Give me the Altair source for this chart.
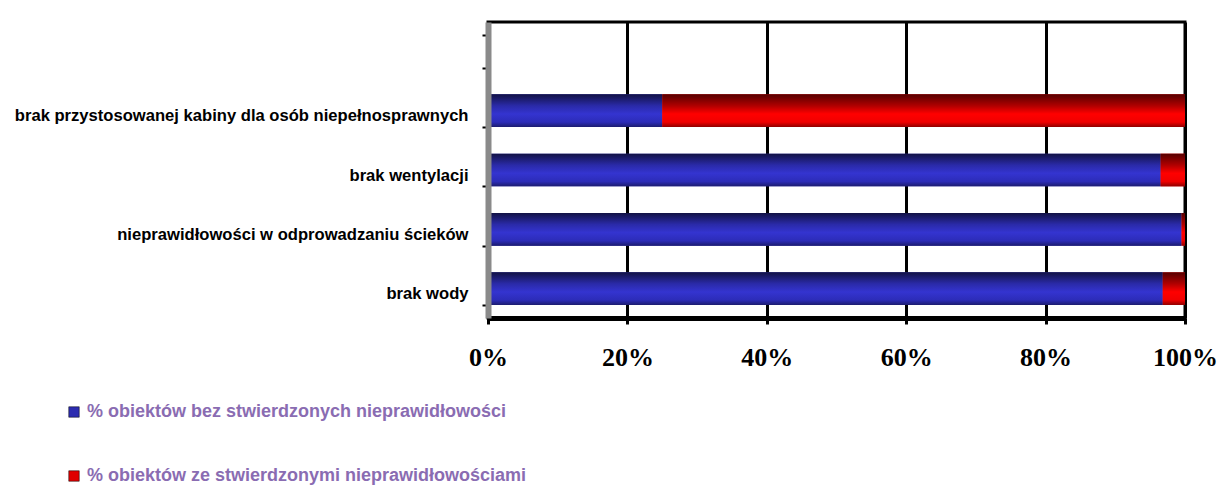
import altair as alt
import pandas as pd

categories = [
    "brak przystosowanej kabiny dla osób niepełnosprawnych",
    "brak wentylacji",
    "nieprawidłowości w odprowadzaniu ścieków",
    "brak wody",
]
ok_pct = [25.0, 96.5, 99.5, 96.8]
bad_pct = [75.0, 3.5, 0.5, 3.2]
series = [
    "% obiektów bez stwierdzonych nieprawidłowości",
    "% obiektów ze stwierdzonymi nieprawidłowościami",
]
y_domain = [" "] + categories
x_ticks = [0, 20, 40, 60, 80, 100]

rows = []
for c, a, b in zip(categories, ok_pct, bad_pct):
    rows.append({"category": c, "series": series[0], "value": a, "order": 0})
    rows.append({"category": c, "series": series[1], "value": b, "order": 1})
df = pd.DataFrame(rows)

blue_grad = alt.Gradient(
    gradient="linear", x1=0, x2=0, y1=0, y2=1,
    stops=[
        alt.GradientStop(color="#121245", offset=0),
        alt.GradientStop(color="#2a2aa8", offset=0.35),
        alt.GradientStop(color="#3434d0", offset=0.6),
        alt.GradientStop(color="#2c2cb8", offset=0.85),
        alt.GradientStop(color="#1c1c70", offset=1),
    ],
)
red_grad = alt.Gradient(
    gradient="linear", x1=0, x2=0, y1=0, y2=1,
    stops=[
        alt.GradientStop(color="#560000", offset=0),
        alt.GradientStop(color="#b00000", offset=0.35),
        alt.GradientStop(color="#ff0000", offset=0.6),
        alt.GradientStop(color="#f00000", offset=0.85),
        alt.GradientStop(color="#900000", offset=1),
    ],
)

yscale = alt.Scale(domain=y_domain, paddingInner=0.45, paddingOuter=0.22)
xscale = alt.Scale(domain=[0, 100], nice=False)

y_axis = alt.Axis(labelFont="Liberation Sans", labelFontWeight="bold",
                  labelFontSize=16.6, labelColor="black", labelPadding=14,
                  labelOffset=5, labelLimit=480, tickBand="extent",
                  tickColor="black", tickWidth=2, tickSize=6,
                  domainColor="#8a8a8a", domainWidth=6, zindex=1, grid=False)
x_axis = alt.Axis(values=x_ticks, labelExpr="datum.value + '%'",
                  labelFont="Liberation Serif", labelFontWeight="bold",
                  labelFontSize=26, labelColor="black", labelPadding=20,
                  labelFlush=False, grid=True, gridColor="black",
                  gridWidth=3, tickColor="black", tickWidth=3, tickSize=6,
                  domainColor="black", domainWidth=5)

base = alt.Chart(df).transform_stack(
    stack="value", groupby=["category"], as_=["x0", "x1"],
    sort=[alt.SortField("order")],
)

main = base.mark_bar().encode(
    y=alt.Y("category:N", scale=yscale, title=None, axis=y_axis),
    x=alt.X("x0:Q", scale=xscale, title=None, axis=x_axis),
    x2="x1:Q",
    color=alt.Color("series:N",
                    scale=alt.Scale(domain=series, range=["#2c2cb0", "#e00000"]),
                    legend=alt.Legend(title=None, orient="none", legendX=-423,
                                      legendY=381, direction="vertical",
                                      symbolType="square", symbolSize=110,
                                      symbolStrokeColor="black", symbolStrokeWidth=0.5,
                                      labelFont="Liberation Sans", labelFontWeight="bold",
                                      labelFontSize=18, labelColor="#8a6cb2",
                                      rowPadding=46, labelLimit=600)),
)

blue = base.transform_filter(alt.datum.order == 0).mark_bar(fill=blue_grad).encode(
    y=alt.Y("category:N", scale=yscale, title=None, axis=y_axis),
    x=alt.X("x0:Q", scale=xscale, title=None, axis=x_axis),
    x2="x1:Q",
)
red = base.transform_filter(alt.datum.order == 1).mark_bar(fill=red_grad).encode(
    y=alt.Y("category:N", scale=yscale, title=None, axis=y_axis),
    x=alt.X("x0:Q", scale=xscale, title=None, axis=x_axis),
    x2="x1:Q",
)

chart = alt.layer(main, blue, red).properties(
    width=697, height=296,
    autosize=alt.AutoSizeParams(type="none"),
    padding={"left": 488, "top": 22, "right": 36, "bottom": 167},
    background="white",
).configure_view(stroke="black", strokeWidth=3)

chart.save("out.html", embed_options={"renderer": "svg", "actions": False})
